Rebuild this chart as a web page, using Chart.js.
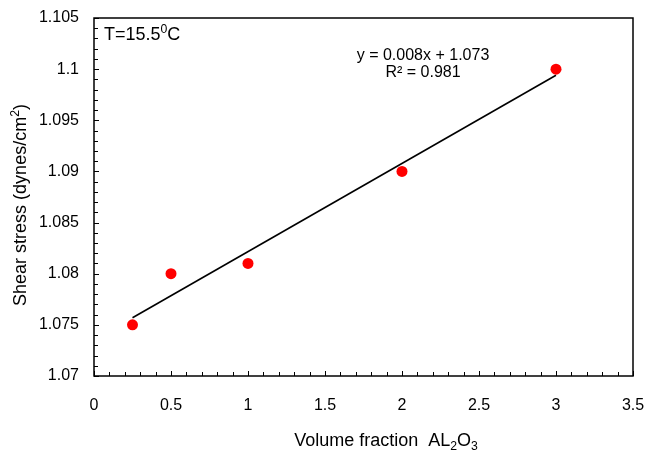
<!DOCTYPE html>
<html>
<head>
<meta charset="utf-8">
<script src="https://cdn.jsdelivr.net/npm/chart.js@4/dist/chart.umd.min.js"></script>
<style>
  html, body { margin: 0; padding: 0; background: #fff; }
  #wrap { width: 645px; height: 452px; }
</style>
</head>
<body>
<div id="wrap"><canvas id="chart" width="645" height="452"></canvas></div>
<script>
// values
const volumeFraction = [0.25, 0.5, 1, 2, 3];
const shearStress = [1.075, 1.080, 1.081, 1.090, 1.100];
const trendX = [0.25, 3];
const trendY = [1.0757, 1.0994];
const xMin = 0, xMax = 3.5, xStep = 0.5;
const yMin = 1.07, yMax = 1.105, yStep = 0.005;
const equationText = "y = 0.008x + 1.073";
const rSquaredText = "R\u00b2 = 0.981";

const FONT = "'Liberation Sans', Arial, sans-serif";

// draws a line of text made of parts, some raised or lowered
function drawParts(ctx, parts, x, y, size, align) {
  ctx.save();
  ctx.textBaseline = "alphabetic";
  ctx.textAlign = "left";
  const widths = parts.map((p) => {
    ctx.font = `${p.small ? size * 0.68 : size}px ${FONT}`;
    return ctx.measureText(p.text).width;
  });
  const total = widths.reduce((a, b) => a + b, 0);
  let cx = align === "center" ? x - total / 2 : x;
  parts.forEach((p, i) => {
    ctx.font = `${p.small ? size * 0.68 : size}px ${FONT}`;
    ctx.fillText(p.text, cx, y + (p.shift || 0));
    cx += widths[i];
  });
  ctx.restore();
}

const framePlugin = {
  id: "frame",
  afterDraw(chart) {
    const { ctx, chartArea: a, scales } = chart;
    ctx.save();
    ctx.fillStyle = "#000";
    ctx.strokeStyle = "#000";

    // tick marks pointing inwards
    ctx.lineWidth = 1;
    ctx.beginPath();
    for (let i = 0; i <= 35; i++) {
      const py = Math.round(scales.y.getPixelForValue(yMin + i * 0.001)) + 0.5;
      const len = i % 5 === 0 ? 5 : 4;
      ctx.moveTo(a.left, py);
      ctx.lineTo(a.left + len, py);
    }
    for (let i = 0; i <= 35; i++) {
      const px = Math.round(scales.x.getPixelForValue(xMin + i * 0.1)) + 0.5;
      const len = i % 5 === 0 ? 5 : 4;
      ctx.moveTo(px, a.bottom);
      ctx.lineTo(px, a.bottom - len);
    }
    ctx.stroke();

    // plot frame
    ctx.lineWidth = 1.5;
    ctx.strokeRect(a.left, a.top, a.right - a.left, a.bottom - a.top);

    // annotations
    drawParts(ctx, [
      { text: "T=15.5" },
      { text: "0", small: true, shift: -7 },
      { text: "C" }
    ], a.left + 10, a.top + 22, 18, "left");
    drawParts(ctx, [{ text: equationText }], 423, 60, 16, "center");
    drawParts(ctx, [{ text: rSquaredText }], 423, 77, 16, "center");

    // axis titles
    drawParts(ctx, [
      { text: "Volume fraction  AL" },
      { text: "2", small: true, shift: 4 },
      { text: "O" },
      { text: "3", small: true, shift: 4 }
    ], 386, 446, 18, "center");

    ctx.save();
    ctx.translate(26, (a.top + a.bottom) / 2 + 8);
    ctx.rotate(-Math.PI / 2);
    drawParts(ctx, [
      { text: "Shear stress (dynes/cm" },
      { text: "2", small: true, shift: -7 },
      { text: ")" }
    ], 0, 0, 18, "center");
    ctx.restore();

    ctx.restore();
  }
};

new Chart(document.getElementById("chart"), {
  type: "scatter",
  data: {
    datasets: [
      {
        label: "Shear stress",
        data: volumeFraction.map((x, i) => ({ x, y: shearStress[i] })),
        backgroundColor: "#ff0000",
        borderWidth: 0,
        pointRadius: 5.5,
        order: 0
      },
      {
        type: "line",
        label: "Linear trend",
        data: trendX.map((x, i) => ({ x, y: trendY[i] })),
        borderColor: "#000",
        borderWidth: 1.6,
        pointRadius: 0,
        fill: false,
        order: 1
      }
    ]
  },
  options: {
    responsive: false,
    animation: false,
    events: [],
    layout: { padding: { top: 18, right: 12, left: 0, bottom: 0 } },
    plugins: {
      legend: { display: false },
      tooltip: { enabled: false }
    },
    scales: {
      x: {
        type: "linear",
        min: xMin,
        max: xMax,
        afterFit(scale) {
          scale.height = 76;
          scale.paddingLeft = 0;
          scale.paddingRight = 0;
        },
        grid: { display: false, drawTicks: false },
        border: { display: false },
        ticks: {
          stepSize: xStep,
          padding: 20,
          color: "#000",
          font: { family: FONT, size: 16 },
          maxRotation: 0,
          callback: (v) => Number(v.toFixed(1)).toString()
        }
      },
      y: {
        type: "linear",
        min: yMin,
        max: yMax,
        afterFit(scale) {
          scale.width = 94;
          scale.paddingTop = 0;
          scale.paddingBottom = 0;
        },
        grid: { display: false, drawTicks: false },
        border: { display: false },
        ticks: {
          stepSize: yStep,
          padding: 15,
          color: "#000",
          font: { family: FONT, size: 16 },
          callback: (v) => Number(v.toFixed(3)).toString()
        }
      }
    }
  },
  plugins: [framePlugin]
});
</script>
</body>
</html>
